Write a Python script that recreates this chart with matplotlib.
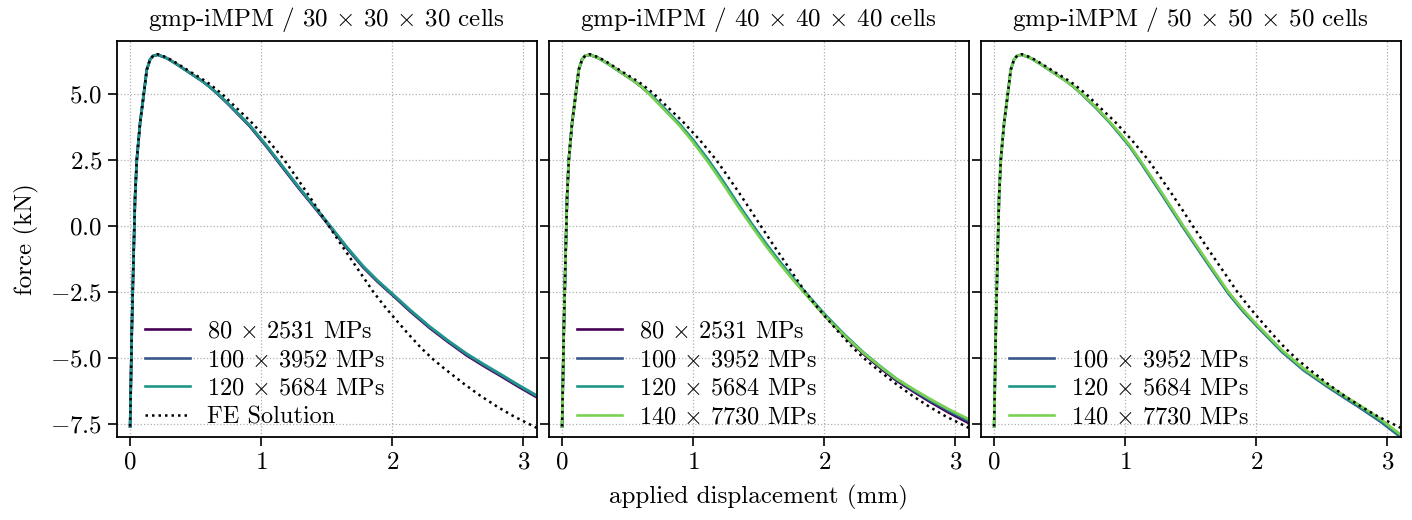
import numpy as np
import matplotlib
matplotlib.use("Agg")
import matplotlib.pyplot as plt
from matplotlib.ticker import MultipleLocator

plt.rcParams.update({
    "font.family": "serif",
    "font.serif": ["cmr10"],
    "mathtext.fontset": "cm",
    "axes.formatter.use_mathtext": True,
    "font.size": 18,
    "axes.unicode_minus": True,
})

# ---------------- data ----------------
# common pre-peak part (all curves)
RISE_X = [0, 0.013, 0.025, 0.038, 0.051, 0.076, 0.102, 0.127, 0.153, 0.178, 0.211, 0.28, 0.356, 0.483, 0.55, 0.61]
RISE_Y = [-7.6, -3.95, -1.42, 1.11, 2.5, 3.89, 4.9, 5.91, 6.31, 6.44, 6.48, 6.35, 6.12, 5.7, 5.48, 5.25]

# FE reference solution
FE_X = [0, 0.013, 0.025, 0.038, 0.051, 0.076, 0.102, 0.127, 0.153, 0.178, 0.211, 0.28, 0.356, 0.483,
        0.55, 0.61, 0.70, 0.8, 0.92, 1.05, 1.175, 1.26, 1.35, 1.43, 1.515, 1.6, 1.69, 1.77, 1.855,
        1.93, 2.0, 2.11, 2.22, 2.31, 2.4, 2.55, 2.67, 2.8, 2.92, 3.04, 3.1]
FE_Y = [-7.6, -3.95, -1.42, 1.11, 2.5, 3.89, 4.9, 5.91, 6.31, 6.46, 6.5, 6.38, 6.16, 5.76,
        5.56, 5.36, 5.0, 4.52, 3.95, 3.25, 2.5, 1.9, 1.25, 0.65, 0.0, -0.64, -1.3, -1.88, -2.5,
        -2.98, -3.4, -4.03, -4.63, -5.05, -5.42, -6.0, -6.43, -6.85, -7.2, -7.5, -7.65]

# panel 1: 30 x 30 x 30 cells
P1_X = [0.674, 0.75, 0.83, 0.911, 1.04, 1.166, 1.29, 1.42, 1.52, 1.65, 1.777, 1.89, 2.0,
        2.14, 2.287, 2.43, 2.567, 2.7, 2.82, 2.96, 3.1]
P1_120 = [4.98, 4.62, 4.22, 3.82, 3.05, 2.24, 1.45, 0.66, 0.04, -0.78, -1.52, -2.08, -2.57,
          -3.2, -3.82, -4.36, -4.84, -5.25, -5.6, -6.02, -6.42]
P1_100 = [4.97, 4.61, 4.21, 3.80, 3.02, 2.21, 1.42, 0.63, 0.01, -0.81, -1.55, -2.11, -2.60,
          -3.23, -3.85, -4.39, -4.87, -5.28, -5.63, -6.05, -6.45]
P1_80 = [4.96, 4.60, 4.19, 3.78, 3.00, 2.19, 1.40, 0.61, -0.01, -0.83, -1.57, -2.13, -2.62,
         -3.26, -3.88, -4.42, -4.91, -5.32, -5.67, -6.09, -6.49]

# panel 2: 40 x 40 x 40 cells
P2_X = [0.674, 0.78, 0.898, 1.0, 1.115, 1.23, 1.34, 1.458, 1.56, 1.662, 1.76, 1.853, 2.0,
        2.15, 2.3, 2.43, 2.552, 2.68, 2.807, 2.95, 3.1]
P2_120 = [4.98, 4.45, 3.85, 3.25, 2.5, 1.68, 0.85, 0.0, -0.7, -1.36, -1.96, -2.5, -3.33,
          -4.1, -4.8, -5.33, -5.8, -6.2, -6.58, -6.97, -7.35]
P2_100 = [4.97, 4.44, 3.83, 3.23, 2.48, 1.65, 0.82, -0.03, -0.73, -1.39, -1.99, -2.53, -3.36,
          -4.13, -4.83, -5.36, -5.83, -6.24, -6.62, -7.02, -7.40]
P2_80 = [4.96, 4.43, 3.82, 3.21, 2.46, 1.63, 0.80, -0.05, -0.75, -1.41, -2.01, -2.55, -3.39,
         -4.16, -4.86, -5.40, -5.87, -6.28, -6.67, -7.08, -7.47]
P2_140 = [4.94, 4.39, 3.78, 3.16, 2.40, 1.57, 0.74, -0.10, -0.80, -1.45, -2.04, -2.57, -3.39,
          -4.14, -4.82, -5.34, -5.80, -6.19, -6.56, -6.95, -7.32]

# panel 3: 50 x 50 x 50 cells
P3_X = [0.674, 0.78, 0.88, 0.96, 1.036, 1.112, 1.28, 1.443, 1.62, 1.787, 1.9, 2.0, 2.194,
        2.36, 2.534, 2.66, 2.789, 2.95, 3.1]
P3_140 = [4.98, 4.48, 3.95, 3.5, 3.04, 2.5, 1.25, 0.0, -1.3, -2.5, -3.18, -3.72, -4.7,
          -5.4, -6.0, -6.4, -6.8, -7.33, -7.9]
P3_120 = [4.97, 4.46, 3.93, 3.47, 3.01, 2.46, 1.21, -0.04, -1.34, -2.54, -3.22, -3.75, -4.74,
          -5.44, -6.04, -6.44, -6.85, -7.38, -7.95]
P3_100 = [4.96, 4.45, 3.92, 3.45, 2.99, 2.44, 1.18, -0.07, -1.37, -2.57, -3.25, -3.78, -4.77,
          -5.47, -6.07, -6.48, -6.89, -7.43, -8.0]

TITLES = [r"gmp-iMPM / 30 $\times$ 30 $\times$ 30 cells",
          r"gmp-iMPM / 40 $\times$ 40 $\times$ 40 cells",
          r"gmp-iMPM / 50 $\times$ 50 $\times$ 50 cells"]
LABELS = {80: r"80 $\times$ 2531 MPs", 100: r"100 $\times$ 3952 MPs",
          120: r"120 $\times$ 5684 MPs", 140: r"140 $\times$ 7730 MPs"}
FE_LABEL = "FE Solution"
XLABEL = "applied displacement (mm)"
YLABEL = "force (kN)"

cmap = plt.cm.viridis
COLORS = {80: cmap(0.0), 100: cmap(0.27), 120: cmap(0.52), 140: cmap(0.8)}

panels = [
    (P1_X, {80: P1_80, 100: P1_100, 120: P1_120}, True),
    (P2_X, {80: P2_80, 100: P2_100, 120: P2_120, 140: P2_140}, False),
    (P3_X, {100: P3_100, 120: P3_120, 140: P3_140}, False),
]

W, H = 1412, 520
fig = plt.figure(figsize=(W / 100, H / 100), dpi=100)
lefts = [117, 549, 981]
aw, top, bot = 419.5, 41, 437
axes = []
for i, l in enumerate(lefts):
    ax = fig.add_axes([l / W, 1 - bot / H, aw / W, (bot - top) / H],
                      sharey=axes[0] if axes else None)
    axes.append(ax)

for i, (ax, (px, series, fe_in_legend)) in enumerate(zip(axes, panels)):
    for n, ys in series.items():
        ax.plot(RISE_X + px, RISE_Y + ys, color=COLORS[n], lw=1.9, label=LABELS[n],
                solid_joinstyle="round")
    ax.plot(FE_X, FE_Y, color="black", lw=1.8, linestyle=(0, (1, 1.6)),
            label=FE_LABEL if fe_in_legend else None)
    ax.set_xlim(-0.1, 3.1)
    ax.set_ylim(-8.0, 7.0)
    ax.xaxis.set_major_locator(MultipleLocator(1))
    ax.yaxis.set_major_locator(MultipleLocator(2.5))
    ax.grid(True, linestyle=":", color="#b0b0b0", lw=0.9)
    ax.set_axisbelow(True)
    ax.tick_params(direction="out", length=6.5, width=1.2, labelsize=18, pad=4,
                   top=False, right=False)
    for s in ax.spines.values():
        s.set_linewidth(1.3)
    if i > 0:
        ax.tick_params(labelleft=False)
    ax.set_title(TITLES[i], fontsize=18, pad=11)
    ax.legend(loc="lower left", frameon=False, fontsize=17.5, handlelength=1.85,
              handletextpad=0.7, labelspacing=0.26, borderpad=0.0, borderaxespad=0.0,
              bbox_to_anchor=(0.0667, 0.022))

axes[0].set_ylabel(YLABEL, fontsize=18, labelpad=8)
fig.text(758 / W, 1 - 497 / H, XLABEL, ha="center", va="center", fontsize=18)

fig.savefig("out.png", dpi=100)
